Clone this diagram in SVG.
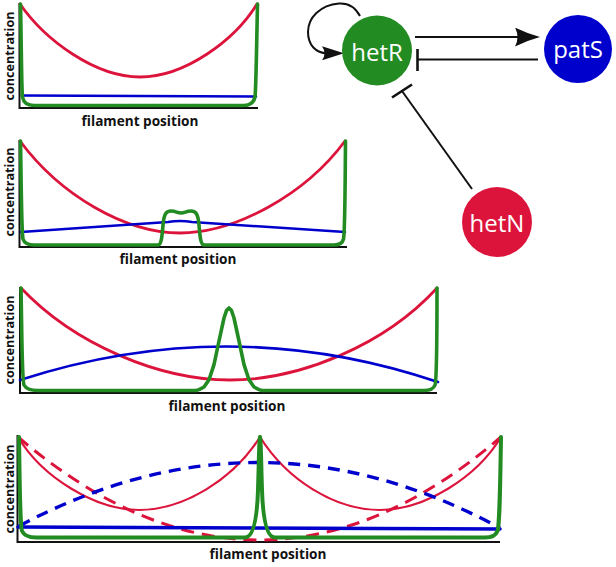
<svg xmlns="http://www.w3.org/2000/svg" width="616" height="567" viewBox="0 0 616 567">
<style>
.ax{fill:none;stroke:#111;stroke-width:2}
.c{fill:none;stroke-linecap:round;stroke-linejoin:round}
.r{stroke:#dc143c;stroke-width:2.8}
.r2{stroke:#dc143c;stroke-width:2.2}
.rd{stroke:#dc143c;stroke-width:3;stroke-dasharray:13 8;stroke-linecap:butt}
.g{stroke:#228b22;stroke-width:3.6}
.b{stroke:#0000cd;stroke-width:2.6}
.bd{stroke:#0000cd;stroke-width:3.4;stroke-dasharray:12 8;stroke-linecap:butt}
.lbl{font-family:"Open Sans","Noto Sans",sans-serif;font-weight:bold;font-size:13.6px;fill:#111;text-anchor:middle}
.yl{font-size:12.6px}
.nt{font-family:"Open Sans","Noto Sans",sans-serif;font-size:24px;fill:#fff;text-anchor:middle}
.ln{fill:none;stroke:#111;stroke-width:2}
.bar{fill:none;stroke:#111;stroke-width:2.6}
</style>
<defs>
<marker id="arr" markerUnits="userSpaceOnUse" markerWidth="26" markerHeight="20" viewBox="0 0 26 20" refX="5" refY="9.5" orient="auto">
<path d="M0,0 Q12,6 25,9.5 Q12,13 0,19 Q5,9.5 0,0 Z" fill="#111"/>
</marker>
<marker id="arrs" markerUnits="userSpaceOnUse" markerWidth="23" markerHeight="14" viewBox="0 0 23 14" refX="5" refY="7" orient="auto">
<path d="M0,0 L22,7 L0,14 Q5,7 0,0 Z" fill="#111"/>
</marker>
</defs>

<g id="panel1">
<path class="ax" d="M19.5,3 V108 H258"/>
<path class="c r" d="M20,4 C45,40 95,77 140,77 C185,77 235,40 257,4"/>
<path class="c b" d="M22,95.5 L256,96.5"/>
<path class="c g" d="M20.5,4 C21.5,50 21.5,90 22.5,97 Q24,105.5 34,105.5 L244,105.5 Q253,105.5 255,97 C256,90 256.5,50 257.5,4"/>
<text class="lbl" x="140" y="126">filament position</text>
<text class="lbl yl" transform="translate(14,56) rotate(-90)">concentration</text>
</g>

<g id="panel2">
<path class="ax" d="M19.5,140 V247 H347"/>
<path class="c r" d="M20,141 C60,195 125,233 180,233 C235,233 305,195 345,141"/>
<path class="c b" d="M21,232 L168,222 Q180,220 192,222 L345,232"/>
<path class="c g" d="M20.5,141 C21.5,200 21.5,232 23,239 Q25,245 34,245 L158,245 C161,245 162,238 163,225 C164,214 166,211 171,211 C176,211 177,213 181,213 C185,213 186,211 191,211 C196,211 198,214 199,225 C200,238 201,245 204,245 L334,245 Q342,245 343.5,239 C345,232 345,200 345.5,141"/>
<text class="lbl" x="178" y="264">filament position</text>
<text class="lbl yl" transform="translate(14,192) rotate(-90)">concentration</text>
</g>

<g id="panel3">
<path class="ax" d="M20,287 V393 H437"/>
<path class="c r" d="M21,288 C75,345 160,380 230,380 C300,380 385,345 437,288"/>
<path class="c b" d="M20,380 Q230,312 438,382"/>
<path class="c g" d="M21,288 C22,340 22,380 24,385 Q27,390.5 38,390.5 L196,390.5 L199,389.6 L204,387 L209,379.8 L214,364.6 L219,341 L224,318 L226.5,310.6 L229,308 L231.5,310.6 L234,318 L239,341 L244,364.6 L249,379.8 L254,387 L259,389.6 L262,390.5 L424,390.5 Q433,390.5 435,385 C437,380 437,340 437,288"/>
<text class="lbl" x="227" y="411">filament position</text>
<text class="lbl yl" transform="translate(14,340) rotate(-90)">concentration</text>
</g>

<g id="panel4">
<path class="ax" d="M17.5,435 V542 H500"/>
<path class="c r2" d="M18,437 C42,477 95,510 139,510 C183,510 233,480 260,437 C287,480 335,510 380,510 C425,510 477,477 501,437"/>
<path class="c rd" d="M18,437 Q260,643 501,437"/>
<path class="c bd" d="M19,526 Q260,398 500,528"/>
<path class="c b" style="stroke-width:3.6" d="M18,527 L500,529"/>
<path class="c g" style="stroke-width:4" d="M19,437 C20,500 20,525 22,531 Q25,537.5 36,537.5 L245,537.5 C253,537.5 257,520 258,490 C259,460 259,440 260,437 C261,440 261,460 262,490 C263,520 267,537.5 275,537.5 L485,537.5 Q495,537.5 497.5,531 C499.5,525 500,500 501,437"/>
<text class="lbl" x="268" y="559">filament position</text>
<text class="lbl yl" transform="translate(14,489) rotate(-90)">concentration</text>
</g>

<g id="connectors">
<path class="ln" d="M360,16 C354,5 346,3 339,3.5 C320,5 308,18 308,32 C308,45 316,53.3 327,53.3" marker-end="url(#arrs)"/>
<path class="ln" d="M415,37 L520,37" marker-end="url(#arr)"/>
<path class="ln" d="M538,59.5 L417,59.5"/>
<path class="bar" d="M417.5,49 V71"/>
<path class="ln" d="M472,189 L402,91"/>
<path class="bar" d="M392,97.5 L412,84.5"/>
</g>

<g id="hetR">
<circle cx="377" cy="50.5" r="35" fill="#228b22"/>
<text class="nt" x="377" y="61">hetR</text>
</g>
<g id="patS">
<circle cx="578" cy="49" r="34" fill="#0000cd"/>
<text class="nt" x="578" y="57.5">patS</text>
</g>
<g id="hetN">
<circle cx="497" cy="222" r="35" fill="#dc143c"/>
<text class="nt" x="497" y="231.5">hetN</text>
</g>
</svg>
